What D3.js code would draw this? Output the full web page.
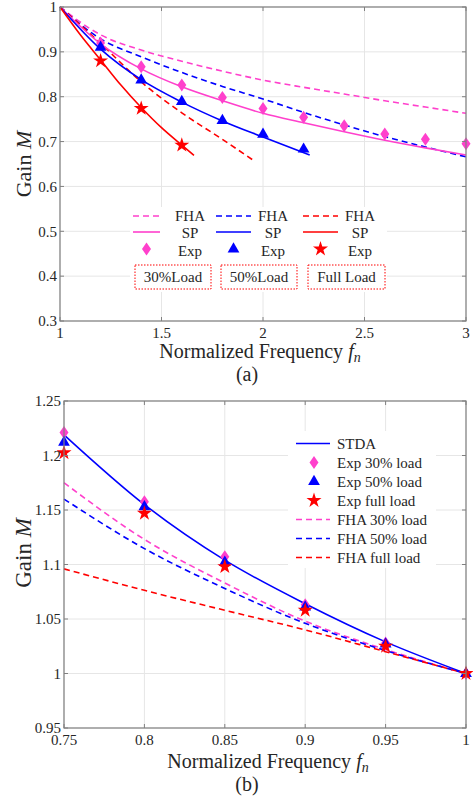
<!DOCTYPE html>
<html>
<head>
<meta charset="utf-8">
<script src="https://cdn.jsdelivr.net/npm/d3@7"></script>
<style>
body { margin: 0; background: #fff; }
svg text { font-family: 'Liberation Serif', 'DejaVu Serif', serif; fill: #262626; }
</style>
</head>
<body>
<div class="chart"></div>
<script>
// ---- data, chart (a)
var fa = [1, 1.2, 1.4, 1.6, 1.8, 2, 2.2, 2.4, 2.6, 2.8, 3];
var fhaA30 = [1, 0.938, 0.904, 0.879, 0.857, 0.837, 0.821, 0.806, 0.791, 0.777, 0.763];
var fhaA50 = [1, 0.929, 0.889, 0.854, 0.823, 0.795, 0.765, 0.737, 0.711, 0.688, 0.666];
var fFhaFull = [1, 1.2, 1.4, 1.6, 1.8, 1.95];
var fhaAFull = [1, 0.919, 0.833, 0.764, 0.705, 0.659];
var spA30 = [1, 0.918, 0.862, 0.822, 0.791, 0.763, 0.742, 0.722, 0.703, 0.686, 0.670];
var fSp50 = [1, 1.2, 1.4, 1.6, 1.8, 2, 2.23];
var spA50 = [1, 0.906, 0.838, 0.788, 0.746, 0.710, 0.670];
var fSpFull = [1, 1.1, 1.2, 1.3, 1.4, 1.5, 1.6, 1.66];
var spAFull = [1, 0.938, 0.882, 0.826, 0.776, 0.731, 0.692, 0.669];
var fExp30 = [1.2, 1.4, 1.6, 1.8, 2, 2.2, 2.4, 2.6, 2.8, 3];
var expA30 = [0.920, 0.867, 0.826, 0.798, 0.774, 0.754, 0.735, 0.717, 0.705, 0.695];
var fExp50 = [1.2, 1.4, 1.6, 1.8, 2, 2.2];
var expA50 = [0.910, 0.837, 0.789, 0.747, 0.716, 0.683];
var fExpFull = [1.2, 1.4, 1.6];
var expAFull = [0.880, 0.774, 0.692];
var xTicksA = [1, 1.5, 2, 2.5, 3];
var yTicksA = [0.3, 0.4, 0.5, 0.6, 0.7, 0.8, 0.9, 1];

// ---- data, chart (b)
var fb = [0.75, 0.8, 0.85, 0.9, 0.95, 1];
var stda = [1.219, 1.155, 1.104, 1.064, 1.029, 1.0];
var expB30 = [1.221, 1.1575, 1.107, 1.063, 1.028, 1.0];
var expB50 = [1.212, 1.153, 1.102, 1.061, 1.027, 1.0];
var expBFull = [1.2025, 1.147, 1.098, 1.058, 1.025, 1.0];
var fhaB30 = [1.175, 1.123, 1.083, 1.048, 1.022, 1.0];
var fhaB50 = [1.160, 1.1146, 1.078, 1.046, 1.021, 1.0];
var fhaBFull = [1.096, 1.0763, 1.058, 1.040, 1.020, 1.0];
var xTicksB = [0.75, 0.8, 0.85, 0.9, 0.95, 1];
var yTicksB = [0.95, 1, 1.05, 1.1, 1.15, 1.2, 1.25];

var PINK = "#ff40cc", BLUE = "#0000ff", RED = "#ff0000";
var FONT = "'Liberation Serif', 'DejaVu Serif', serif";

var svg = d3.select(".chart").append("svg")
  .attr("width", 473).attr("height", 801)
  .attr("font-family", FONT);

function zip(xs, ys) { return xs.map(function(x, i) { return [x, ys[i]]; }); }

function txt(g, x, y, s, size) {
  return g.append("text").attr("x", x).attr("y", y)
    .style("font-family", FONT).style("font-size", size + "px").style("fill", "#262626").text(s);
}

function diamondPath(w, h) {
  return "M0," + (-h/2) + "L" + (w/2) + ",0L0," + (h/2) + "L" + (-w/2) + ",0Z";
}
function marker(g, kind, color) {
  if (kind === "diamond") {
    return g.append("path").attr("d", diamondPath(9, 13)).attr("fill", color);
  } else if (kind === "triangle") {
    return g.append("path").attr("d", d3.symbol(d3.symbolTriangle, 60)()).attr("fill", color);
  } else {
    return g.append("path").attr("d", d3.symbol(d3.symbolStar, 70)()).attr("fill", color);
  }
}

// grid
function frame(x, y, xt, yt) {
  var x0 = x.range()[0], x1 = x.range()[1], y0 = y.range()[0], y1 = y.range()[1];
  var g = svg.append("g");
  xt.forEach(function(t) {
    g.append("line").attr("x1", x(t)).attr("x2", x(t)).attr("y1", y0).attr("y2", y1)
      .attr("stroke", "#e6e6e6").attr("stroke-width", 1);
  });
  yt.forEach(function(t) {
    g.append("line").attr("x1", x0).attr("x2", x1).attr("y1", y(t)).attr("y2", y(t))
      .attr("stroke", "#e6e6e6").attr("stroke-width", 1);
  });
  return g;
}
// box, inward ticks on all sides, tick labels
function axes(x, y, xt, yt, fmt) {
  var x0 = x.range()[0], x1 = x.range()[1], y0 = y.range()[0], y1 = y.range()[1];
  var g = svg.append("g");
  var tl = 4;
  g.append("rect").attr("x", x0).attr("y", y1).attr("width", x1 - x0).attr("height", y0 - y1)
    .attr("fill", "none").attr("stroke", "#808080").attr("stroke-width", 1.2);
  xt.forEach(function(t) {
    g.append("line").attr("x1", x(t)).attr("x2", x(t)).attr("y1", y0).attr("y2", y0 - tl).attr("stroke", "#808080");
    g.append("line").attr("x1", x(t)).attr("x2", x(t)).attr("y1", y1).attr("y2", y1 + tl).attr("stroke", "#808080");
    txt(g, x(t), y0 + 17, fmt(t), 15).attr("text-anchor", "middle");
  });
  yt.forEach(function(t) {
    g.append("line").attr("x1", x0).attr("x2", x0 + tl).attr("y1", y(t)).attr("y2", y(t)).attr("stroke", "#808080");
    g.append("line").attr("x1", x1).attr("x2", x1 - tl).attr("y1", y(t)).attr("y2", y(t)).attr("stroke", "#808080");
    txt(g, x0 - 3, y(t), fmt(t), 15).attr("dy", "0.35em").attr("text-anchor", "end");
  });
  return g;
}
function xLabel(cx, cy) {
  var t = txt(svg, cx, cy, null, 20).attr("text-anchor", "middle");
  t.append("tspan").text("Normalized Frequency ");
  t.append("tspan").style("font-style", "italic").text("f");
  t.append("tspan").attr("dy", 4).style("font-size", "14px").style("font-style", "italic").text("n");
}
function yLabel(cx, cy, size) {
  var t = txt(svg, 0, 0, null, size).attr("transform", "translate(" + cx + "," + cy + ") rotate(-90)")
    .attr("text-anchor", "middle").attr("dy", "0.35em");
  t.append("tspan").text("Gain ");
  t.append("tspan").style("font-style", "italic").text("M");
}
function drawLine(g, x, y, pts, color, dashed) {
  var line = d3.line().x(function(d) { return x(d[0]); }).y(function(d) { return y(d[1]); })
    .curve(d3.curveMonotoneX);
  g.append("path").datum(pts).attr("d", line).attr("fill", "none")
    .attr("stroke", color).attr("stroke-width", 1.6)
    .attr("stroke-dasharray", dashed ? "6,4" : null);
}
function drawMarkers(g, x, y, pts, kind, color) {
  pts.forEach(function(d) {
    var m = g.append("g").attr("transform", "translate(" + x(d[0]) + "," + y(d[1]) + ")");
    marker(m, kind, color);
  });
}
var fmt = function(t) { return String(+t.toFixed(2)); };

// ================= chart (a)
var xA = d3.scaleLinear().domain([1, 3]).range([60, 466]);
var yA = d3.scaleLinear().domain([0.3, 1]).range([321, 7]);
frame(xA, yA, xTicksA, yTicksA);
var gA = svg.append("g");
drawLine(gA, xA, yA, zip(fa, fhaA30), PINK, true);
drawLine(gA, xA, yA, zip(fa, fhaA50), BLUE, true);
drawLine(gA, xA, yA, zip(fFhaFull, fhaAFull), RED, true);
drawLine(gA, xA, yA, zip(fa, spA30), PINK, false);
drawLine(gA, xA, yA, zip(fSp50, spA50), BLUE, false);
drawLine(gA, xA, yA, zip(fSpFull, spAFull), RED, false);
drawMarkers(gA, xA, yA, zip(fExp30, expA30), "diamond", PINK);
drawMarkers(gA, xA, yA, zip(fExp50, expA50), "triangle", BLUE);
drawMarkers(gA, xA, yA, zip(fExpFull, expAFull), "star", RED);

// legend (a)
var lgA = svg.append("g");
lgA.append("rect").attr("x", 130).attr("y", 207).attr("width", 257).attr("height", 85).attr("fill", "#fff");
var colsA = [
  {x0: 133, x1: 160, tx: 190, c: PINK, m: "diamond", box: "30%Load", bx: 135, bw: 76},
  {x0: 216, x1: 251, tx: 273, c: BLUE, m: "triangle", box: "50%Load", bx: 221, bw: 76},
  {x0: 303, x1: 338, tx: 360, c: RED, m: "star", box: "Full Load", bx: 308, bw: 77}
];
colsA.forEach(function(c) {
  lgA.append("line").attr("x1", c.x0).attr("x2", c.x1).attr("y1", 216).attr("y2", 216)
    .attr("stroke", c.c).attr("stroke-width", 1.6).attr("stroke-dasharray", "6,4");
  lgA.append("line").attr("x1", c.x0).attr("x2", c.x1).attr("y1", 232).attr("y2", 232)
    .attr("stroke", c.c).attr("stroke-width", 1.6);
  var m = lgA.append("g").attr("transform", "translate(" + ((c.x0 + c.x1) / 2) + ",249)");
  marker(m, c.m, c.c);
  txt(lgA, c.tx, 216, "FHA", 15).attr("dy", "0.35em").attr("text-anchor", "middle");
  txt(lgA, c.tx, 233, "SP", 15).attr("dy", "0.35em").attr("text-anchor", "middle");
  txt(lgA, c.tx, 251, "Exp", 15).attr("dy", "0.35em").attr("text-anchor", "middle");
  lgA.append("rect").attr("x", c.bx).attr("y", 265).attr("width", c.bw).attr("height", 24)
    .attr("fill", "none").attr("stroke", RED).attr("stroke-width", 1).attr("stroke-dasharray", "1.5,1.5");
  txt(lgA, c.bx + c.bw / 2, 277, c.box, 15).attr("dy", "0.35em").attr("text-anchor", "middle");
});
axes(xA, yA, xTicksA, yTicksA, fmt);
xLabel(260, 358);
yLabel(23, 164, 22);
txt(svg, 247, 381, "(a)", 20).attr("text-anchor", "middle");

// ================= chart (b)
var xB = d3.scaleLinear().domain([0.75, 1]).range([64, 466]);
var yB = d3.scaleLinear().domain([0.95, 1.25]).range([728, 401]);
frame(xB, yB, xTicksB, yTicksB);
var gB = svg.append("g");
drawLine(gB, xB, yB, zip(fb, fhaB30), PINK, true);
drawLine(gB, xB, yB, zip(fb, fhaB50), BLUE, true);
drawLine(gB, xB, yB, zip(fb, fhaBFull), RED, true);
drawLine(gB, xB, yB, zip(fb, stda), BLUE, false);
drawMarkers(gB, xB, yB, zip(fb, expB30), "diamond", PINK);
drawMarkers(gB, xB, yB, zip(fb, expB50), "triangle", BLUE);
drawMarkers(gB, xB, yB, zip(fb, expBFull), "star", RED);

// legend (b)
var lgB = svg.append("g");
lgB.append("rect").attr("x", 288).attr("y", 431).attr("width", 148).attr("height", 137).attr("fill", "#fff");
var itemsB = [
  {t: "STDA", c: BLUE, k: "solid"},
  {t: "Exp 30% load", c: PINK, k: "diamond"},
  {t: "Exp 50% load", c: BLUE, k: "triangle"},
  {t: "Exp full load", c: RED, k: "star"},
  {t: "FHA 30% load", c: PINK, k: "dash"},
  {t: "FHA 50% load", c: BLUE, k: "dash"},
  {t: "FHA full load", c: RED, k: "dash"}
];
itemsB.forEach(function(d, i) {
  var yy = 443.5 + i * 19;
  if (d.k === "solid" || d.k === "dash") {
    lgB.append("line").attr("x1", 296).attr("x2", 330).attr("y1", yy).attr("y2", yy)
      .attr("stroke", d.c).attr("stroke-width", 1.6).attr("stroke-dasharray", d.k === "dash" ? "6,4" : null);
  } else {
    var m = lgB.append("g").attr("transform", "translate(314," + yy + ")");
    marker(m, d.k, d.c);
  }
  txt(lgB, 337, yy, d.t, 15).attr("dy", "0.35em");
});
axes(xB, yB, xTicksB, yTicksB, fmt);
xLabel(268, 768);
yLabel(23, 553, 23);
txt(svg, 247, 791, "(b)", 20).attr("text-anchor", "middle");
</script>
</body>
</html>
